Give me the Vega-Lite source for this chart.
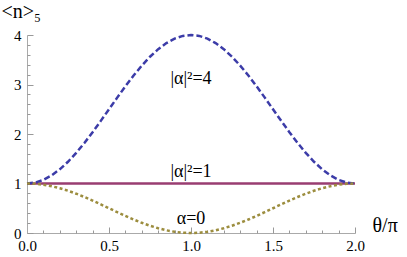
{
  "$schema": "https://vega.github.io/schema/vega-lite/v6.json",
  "autosize": "none",
  "width": 328,
  "height": 198,
  "padding": {"left": 27, "top": 35, "right": 52, "bottom": 24},
  "background": "white",
  "config": {
    "view": {"stroke": null},
    "font": "Times New Roman",
    "axis": {"grid": false, "domainColor": "#aaaaaa", "tickColor": "#999999", "labelColor": "black", "labelFont": "Times New Roman", "labelFontSize": 15, "titleFont": "Times New Roman", "titleFontWeight": "normal", "titleColor": "black", "labelOverlap": false}
  },
  "resolve": {"axis": {"x": "independent", "y": "independent"}},
  "datasets": {
    "curves": [
      {"x": 0, "a4": 1, "a1": 1, "a0": 1},
      {"x": 0.05, "a4": 1.0185, "a1": 1, "a0": 0.9938},
      {"x": 0.1, "a4": 1.0734, "a1": 1, "a0": 0.9755},
      {"x": 0.15, "a4": 1.1635, "a1": 1, "a0": 0.9455},
      {"x": 0.2, "a4": 1.2865, "a1": 1, "a0": 0.9045},
      {"x": 0.25, "a4": 1.4393, "a1": 1, "a0": 0.8536},
      {"x": 0.3, "a4": 1.6183, "a1": 1, "a0": 0.7939},
      {"x": 0.35, "a4": 1.819, "a1": 1, "a0": 0.727},
      {"x": 0.4, "a4": 2.0365, "a1": 1, "a0": 0.6545},
      {"x": 0.45, "a4": 2.2654, "a1": 1, "a0": 0.5782},
      {"x": 0.5, "a4": 2.5, "a1": 1, "a0": 0.5},
      {"x": 0.55, "a4": 2.7346, "a1": 1, "a0": 0.4218},
      {"x": 0.6, "a4": 2.9635, "a1": 1, "a0": 0.3455},
      {"x": 0.65, "a4": 3.181, "a1": 1, "a0": 0.273},
      {"x": 0.7, "a4": 3.3817, "a1": 1, "a0": 0.2061},
      {"x": 0.75, "a4": 3.5607, "a1": 1, "a0": 0.1464},
      {"x": 0.8, "a4": 3.7135, "a1": 1, "a0": 0.0955},
      {"x": 0.85, "a4": 3.8365, "a1": 1, "a0": 0.0545},
      {"x": 0.9, "a4": 3.9266, "a1": 1, "a0": 0.0245},
      {"x": 0.95, "a4": 3.9815, "a1": 1, "a0": 0.0062},
      {"x": 1.0, "a4": 4, "a1": 1, "a0": 0},
      {"x": 1.05, "a4": 3.9815, "a1": 1, "a0": 0.0062},
      {"x": 1.1, "a4": 3.9266, "a1": 1, "a0": 0.0245},
      {"x": 1.15, "a4": 3.8365, "a1": 1, "a0": 0.0545},
      {"x": 1.2, "a4": 3.7135, "a1": 1, "a0": 0.0955},
      {"x": 1.25, "a4": 3.5607, "a1": 1, "a0": 0.1464},
      {"x": 1.3, "a4": 3.3817, "a1": 1, "a0": 0.2061},
      {"x": 1.35, "a4": 3.181, "a1": 1, "a0": 0.273},
      {"x": 1.4, "a4": 2.9635, "a1": 1, "a0": 0.3455},
      {"x": 1.45, "a4": 2.7346, "a1": 1, "a0": 0.4218},
      {"x": 1.5, "a4": 2.5, "a1": 1, "a0": 0.5},
      {"x": 1.55, "a4": 2.2654, "a1": 1, "a0": 0.5782},
      {"x": 1.6, "a4": 2.0365, "a1": 1, "a0": 0.6545},
      {"x": 1.65, "a4": 1.819, "a1": 1, "a0": 0.727},
      {"x": 1.7, "a4": 1.6183, "a1": 1, "a0": 0.7939},
      {"x": 1.75, "a4": 1.4393, "a1": 1, "a0": 0.8536},
      {"x": 1.8, "a4": 1.2865, "a1": 1, "a0": 0.9045},
      {"x": 1.85, "a4": 1.1635, "a1": 1, "a0": 0.9455},
      {"x": 1.9, "a4": 1.0734, "a1": 1, "a0": 0.9755},
      {"x": 1.95, "a4": 1.0185, "a1": 1, "a0": 0.9938},
      {"x": 2.0, "a4": 1, "a1": 1, "a0": 1}
    ],
    "labels": [
      {"x": 1, "y": 3.12, "label": "|α|²=4"},
      {"x": 1, "y": 1.23, "label": "|α|²=1"},
      {"x": 1, "y": 0.28, "label": "α=0"}
    ]
  },
  "layer": [
    {
      "data": {"name": "curves"},
      "mark": {"type": "line", "color": "#993d71", "strokeWidth": 2.5},
      "encoding": {
        "x": {"field": "x", "type": "quantitative", "scale": {"domain": [0, 2], "nice": false},
          "axis": {"orient": "bottom", "values": [0, 0.5, 1, 1.5, 2], "format": ".1f",
            "ticks": false, "labelPadding": 5, "labelFlush": false,
            "title": "θ/π", "titleFontSize": 20, "titleX": 345, "titleY": -2, "titleAlign": "left", "titleBaseline": "alphabetic"}},
        "y": {"field": "a1", "type": "quantitative", "scale": {"domain": [0, 4], "nice": false},
          "axis": {"orient": "left", "values": [0, 1, 2, 3, 4], "format": "d",
            "ticks": false, "labelPadding": 6, "labelFlush": false,
            "title": "<n>₅", "titleFontSize": 20, "titleAngle": 0, "titleX": -26, "titleY": -18, "titleAlign": "left", "titleBaseline": "alphabetic"}}
      }
    },
    {
      "data": {"name": "curves"},
      "mark": {"type": "line", "color": "#3c3ca8", "strokeWidth": 2.5, "strokeDash": [6, 3]},
      "encoding": {
        "x": {"field": "x", "type": "quantitative",
          "axis": {"orient": "top", "offset": -198, "values": [0, 0.5, 1, 1.5, 2], "labels": false, "domain": false, "tickSize": 6, "title": null}},
        "y": {"field": "a4", "type": "quantitative",
          "axis": {"orient": "right", "offset": -328, "values": [0, 1, 2, 3, 4], "labels": false, "domain": false, "tickSize": 6, "title": null}}
      }
    },
    {
      "data": {"name": "curves"},
      "mark": {"type": "line", "color": "#9c8d3e", "strokeWidth": 2.5, "strokeDash": [3, 2.5]},
      "encoding": {
        "x": {"field": "x", "type": "quantitative",
          "axis": {"orient": "top", "offset": -198, "values": [0.1,0.2,0.3,0.4,0.6,0.7,0.8,0.9,1.1,1.2,1.3,1.4,1.6,1.7,1.8,1.9], "labels": false, "domain": false, "tickSize": 3, "title": null}},
        "y": {"field": "a0", "type": "quantitative",
          "axis": {"orient": "right", "offset": -328, "values": [0.2,0.4,0.6,0.8,1.2,1.4,1.6,1.8,2.2,2.4,2.6,2.8,3.2,3.4,3.6,3.8], "labels": false, "domain": false, "tickSize": 3, "title": null}}
      }
    },
    {
      "data": {"name": "labels"},
      "mark": {"type": "text", "font": "Times New Roman", "fontSize": 18, "color": "black", "align": "center", "baseline": "middle"},
      "encoding": {
        "x": {"field": "x", "type": "quantitative", "axis": null},
        "y": {"field": "y", "type": "quantitative", "axis": null},
        "text": {"field": "label"}
      }
    }
  ]
}
